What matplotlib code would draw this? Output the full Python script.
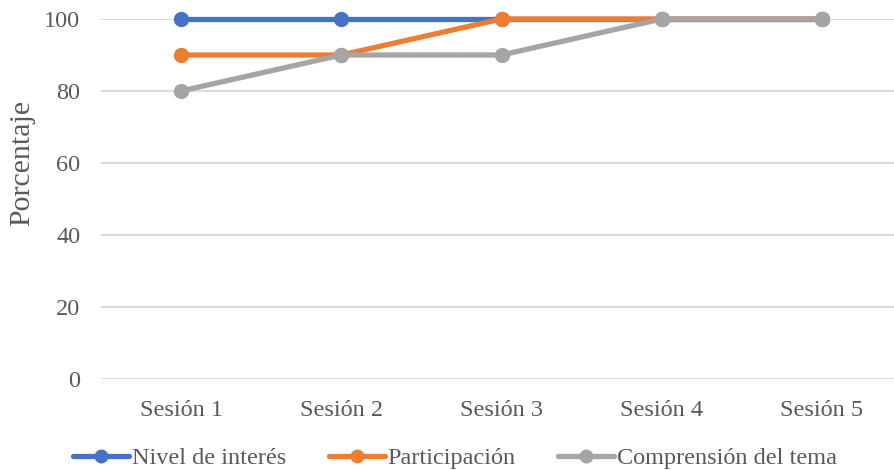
import matplotlib
matplotlib.use("Agg")
import matplotlib.pyplot as plt

sesiones = ["Sesión 1", "Sesión 2", "Sesión 3", "Sesión 4", "Sesión 5"]
nivel_interes = [100, 100, 100, 100, 100]
participacion = [90, 90, 100, 100, 100]
comprension = [80, 90, 90, 100, 100]

plt.rcParams['font.family'] = ['Liberation Serif', 'DejaVu Serif']

fig = plt.figure(figsize=(8.94, 4.70), dpi=100)
ax = fig.add_axes([101 / 894, 1 - 379 / 470, 1 - 101 / 894, (379 - 19) / 470])

x = list(range(len(sesiones)))
series = [
    ("Nivel de interés", nivel_interes, "#4472C4"),
    ("Participación", participacion, "#ED7D31"),
    ("Comprensión del tema", comprension, "#A5A5A5"),
]
for name, vals, col in series:
    ax.plot(x, vals, color=col, lw=3.8, marker='o', ms=10, label=name,
            solid_capstyle='round', clip_on=False, zorder=3)

ax.set_ylim(0, 100)
ax.set_xlim(-0.5, 4.45)
ax.set_yticks(range(0, 101, 20))
ax.set_xticks(x)
ax.set_xticklabels(sesiones)
ax.grid(axis='y', color='#D9D9D9', lw=1.3)
ax.set_axisbelow(True)
for s in ax.spines.values():
    s.set_visible(False)
ax.tick_params(length=0, labelsize=17.5, colors='#595959', pad=15)
ax.tick_params(axis='y', pad=15)

# y label sits a bit above the axis centre in the original
fig.text(22 / 894, 1 - 163 / 470, "Porcentaje", rotation=90, fontsize=21.5,
         color='#595959', ha='center', va='center')

fig.legend(loc='center', bbox_to_anchor=(0.509, 1 - 458 / 470), ncol=3, frameon=False,
           fontsize=17.5, labelcolor='#595959', handlelength=2.3, handletextpad=0.12,
           columnspacing=1.75, markerscale=0.9)

fig.savefig("out.png", dpi=100)
